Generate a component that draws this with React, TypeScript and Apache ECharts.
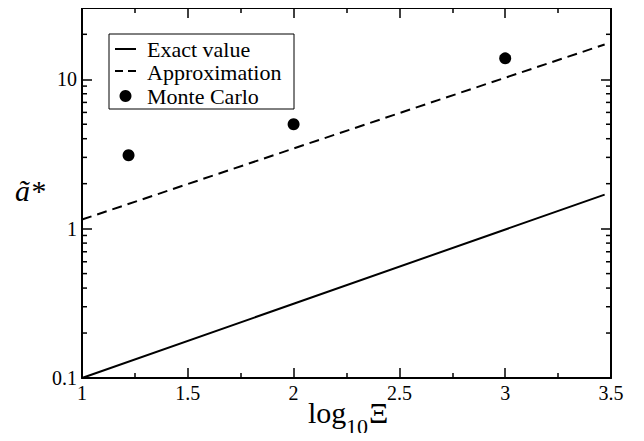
import React, { useEffect, useRef } from "react";
import * as echarts from "echarts";

// Data
const exactX = [1, 2, 3.47];
const exactY = [0.1, 0.314, 1.69];
const approxX = [1, 2, 3.47];
const approxY = [1.15, 3.44, 17.1];
const mcX = [1.22, 2, 3];
const mcY = [3.1, 5.0, 13.8];
const yMajorTicks = [0.1, 1, 10];
const yTickLabels = ["0.1", "1", "10"];
const yMinorTicks = [0.2, 0.3, 0.4, 0.5, 0.6, 0.7, 0.8, 0.9, 2, 3, 4, 5, 6, 7, 8, 9, 20];
const legendNames = ["Exact value", "Approximation", "Monte Carlo"];

const FAMILY = "Liberation Serif";
const X_MIN = 1;
const X_MAX = 3.5;
const Y_MIN = 0.1;
const Y_MAX = 30;

export default function App() {
  const ref = useRef<HTMLDivElement>(null);

  useEffect(() => {
    if (!ref.current) return;
    const chart = echarts.init(ref.current, null, { renderer: "svg" });

    const mkLine = () => ({ show: true, onZero: false, lineStyle: { color: "#000", width: 2 } });
    const mkTick = () => ({ show: true, inside: true, length: 10, lineStyle: { color: "#000", width: 1.5 } });

    const yLabelFmt = (v: number) => {
      const i = yMajorTicks.findIndex((t) => Math.abs(Math.log10(v) - Math.log10(t)) < 1e-6);
      return i >= 0 ? yTickLabels[i] : "";
    };

    const xAxisOf = (pos: string, showLabel: boolean) => ({
      type: "value",
      position: pos,
      min: X_MIN,
      max: X_MAX,
      interval: 0.5,
      axisLine: mkLine(),
      axisTick: mkTick(),
      minorTick: { show: true, splitNumber: 2, length: 5, lineStyle: { color: "#000", width: 1.5 } },
      splitLine: { show: false },
      minorSplitLine: { show: false },
      axisLabel: showLabel
        ? { show: true, margin: 5, color: "#000", fontSize: 20, fontFamily: FAMILY }
        : { show: false },
    });
    const yAxisOf = (pos: string, showLabel: boolean) => ({
      type: "log",
      position: pos,
      logBase: 10,
      min: Y_MIN,
      max: Y_MAX,
      axisLine: mkLine(),
      axisTick: mkTick(),
      minorTick: { show: false },
      splitLine: { show: false },
      minorSplitLine: { show: false },
      axisLabel: showLabel
        ? { show: true, margin: 5, color: "#000", fontSize: 20, fontFamily: FAMILY, formatter: yLabelFmt }
        : { show: false },
    });

    const legendY = [48, 71, 95];

    chart.setOption({
      animation: false,
      grid: { left: 82, top: 8, right: 33, bottom: 63 },
      xAxis: [xAxisOf("bottom", true), xAxisOf("top", false)],
      yAxis: [yAxisOf("left", true), yAxisOf("right", false)],
      series: [
        {
          name: legendNames[0],
          type: "line",
          data: exactX.map((x, i) => [x, exactY[i]]),
          showSymbol: false,
          lineStyle: { color: "#000", width: 2, opacity: 1 },
          silent: true,
        },
        {
          name: legendNames[1],
          type: "line",
          data: approxX.map((x, i) => [x, approxY[i]]),
          showSymbol: false,
          lineStyle: { color: "#000", width: 2, type: [10, 6], opacity: 1 },
          silent: true,
        },
        {
          name: legendNames[2],
          type: "scatter",
          data: mcX.map((x, i) => [x, mcY[i]]),
          symbol: "circle",
          symbolSize: 12,
          itemStyle: { color: "#000", opacity: 1 },
          silent: true,
        },
        {
          type: "custom",
          data: yMinorTicks.map((v) => [X_MIN, v]),
          silent: true,
          clip: false,
          renderItem: (params: any, api: any) => {
            const v = api.value(1);
            const pl = api.coord([X_MIN, v]);
            const pr = api.coord([X_MAX, v]);
            const st = { stroke: "#000", lineWidth: 1.5 };
            return {
              type: "group",
              children: [
                { type: "line", shape: { x1: pl[0], y1: pl[1], x2: pl[0] + 5, y2: pl[1] }, style: st },
                { type: "line", shape: { x1: pr[0], y1: pr[1], x2: pr[0] - 5, y2: pr[1] }, style: st },
              ],
            };
          },
        },
      ],
      graphic: [
        {
          type: "rect",
          shape: { x: 109, y: 34, width: 185, height: 75 },
          style: { fill: "#fff", stroke: "#000", lineWidth: 1 },
          z: 10,
        },
        {
          type: "line",
          shape: { x1: 115, y1: legendY[0] + 1, x2: 136, y2: legendY[0] + 1 },
          style: { stroke: "#000", lineWidth: 2 },
          z: 11,
        },
        {
          type: "line",
          shape: { x1: 115, y1: legendY[1], x2: 136, y2: legendY[1] },
          style: { stroke: "#000", lineWidth: 2, lineDash: [8, 5] },
          z: 11,
        },
        {
          type: "circle",
          shape: { cx: 125.5, cy: legendY[2] + 1, r: 6 },
          style: { fill: "#000" },
          z: 11,
        },
        ...legendNames.map((n, i) => ({
          type: "text",
          x: 147,
          y: legendY[i] + 1,
          style: {
            text: n,
            fill: "#000",
            fontSize: 22,
            fontFamily: FAMILY,
            textVerticalAlign: "middle",
            textAlign: "left",
          },
          z: 11,
        })),
        {
          type: "text",
          x: 308,
          y: 427,
          style: { text: "log", fill: "#000", fontSize: 30, fontFamily: FAMILY, textAlign: "left", textVerticalAlign: "bottom" },
        },
        {
          type: "text",
          x: 346,
          y: 437,
          style: { text: "10", fill: "#000", fontSize: 22, fontFamily: FAMILY, textAlign: "left", textVerticalAlign: "bottom" },
        },
        {
          type: "text",
          x: 369,
          y: 427,
          style: { text: "Ξ", fill: "#000", fontSize: 30, fontFamily: FAMILY, textAlign: "left", textVerticalAlign: "bottom" },
        },
        {
          type: "text",
          x: 15,
          y: 205,
          style: {
            text: "ã*",
            fill: "#000",
            fontSize: 30,
            fontStyle: "italic",
            fontFamily: FAMILY,
            textAlign: "left",
            textVerticalAlign: "bottom",
          },
        },
      ],
    });

    return () => chart.dispose();
  }, []);

  return <div ref={ref} style={{ width: 644, height: 441, margin: -8 }} />;
}
